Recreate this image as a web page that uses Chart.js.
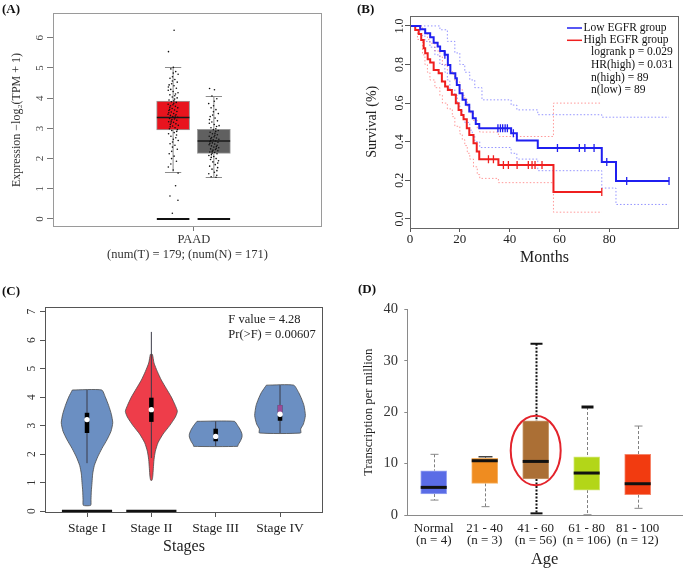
<!DOCTYPE html>
<html>
<head>
<meta charset="utf-8">
<script src="https://cdn.jsdelivr.net/npm/chart.js@4.4.1/dist/chart.umd.min.js"></script>
<style>
  body { margin: 0; background: #fff; overflow: hidden; }
  #wrap { position: relative; width: 685px; height: 569px; background: #fff; }
  canvas { position: absolute; }
  .tag { position: absolute; font: bold 13px "Liberation Serif", serif; color: #111; line-height: 15px; }
</style>
</head>
<body>
<div id="wrap">
  <canvas id="chartA" width="340" height="270" style="left:0;top:0;width:340px;height:270px"></canvas>
  <canvas id="chartB" width="345" height="270" style="left:340px;top:0;width:345px;height:270px"></canvas>
  <canvas id="chartC" width="340" height="294" style="left:0;top:275px;width:340px;height:294px"></canvas>
  <canvas id="chartD" width="345" height="294" style="left:340px;top:275px;width:345px;height:294px"></canvas>
  <div class="tag" style="left:2px;top:1px">(A)</div>
  <div class="tag" style="left:357px;top:1px">(B)</div>
  <div class="tag" style="left:2px;top:283px">(C)</div>
  <div class="tag" style="left:358px;top:281px">(D)</div>
</div>
<script>
// ---- (A) expression in tumour vs normal ----
const aGroups = ['Tumor', 'Normal'];
const aLow = [1.57, 1.38];
const aQ1 = [2.95, 2.17];
const aMedian = [3.36, 2.58];
const aQ3 = [3.90, 2.97];
const aHigh = [5.04, 4.07];
const aTumorPoints = [6.25, 5.54, 5.02, 4.97, 4.88, 4.83, 4.79, 4.71, 4.66, 4.62, 4.57, 4.53, 4.48, 4.44,
  4.41, 4.37, 4.33, 4.29, 4.26, 4.22, 4.18, 4.14, 4.11, 4.08, 4.04, 4.01, 3.97, 3.94, 3.91, 3.88, 3.86,
  3.83, 3.8, 3.78, 3.75, 3.73, 3.7, 3.68, 3.66, 3.63, 3.61, 3.59, 3.56, 3.54, 3.52, 3.49, 3.47, 3.45,
  3.43, 3.41, 3.39, 3.37, 3.35, 3.33, 3.31, 3.29, 3.27, 3.24, 3.22, 3.2, 3.18, 3.15, 3.13, 3.1, 3.08,
  3.05, 3.02, 2.99, 2.96, 2.93, 2.9, 2.86, 2.82, 2.78, 2.74, 2.69, 2.64, 2.6, 2.55, 2.49, 2.44, 2.38,
  2.31, 2.24, 2.16, 2.08, 2.0, 1.91, 1.82, 1.72, 1.62, 1.52, 1.1, 0.76, 0.62, 0.19];
const aNormalPoints = [4.32, 4.28, 4.07, 3.98, 3.9, 3.82, 3.75, 3.68, 3.62, 3.55, 3.49, 3.44, 3.39, 3.34,
  3.29, 3.25, 3.21, 3.17, 3.13, 3.09, 3.06, 3.02, 2.99, 2.96, 2.93, 2.9, 2.87, 2.84, 2.82, 2.79, 2.77,
  2.74, 2.72, 2.7, 2.68, 2.66, 2.64, 2.62, 2.6, 2.58, 2.56, 2.54, 2.52, 2.5, 2.48, 2.46, 2.44, 2.42,
  2.4, 2.38, 2.36, 2.34, 2.32, 2.3, 2.28, 2.26, 2.24, 2.22, 2.2, 2.18, 2.16, 2.13, 2.1, 2.07, 2.04,
  2.0, 1.97, 1.93, 1.89, 1.85, 1.8, 1.75, 1.7, 1.65, 1.6, 1.55, 1.5, 1.45, 1.4, 1.38];
const aXTicks = [0];
const aXLabels = ['PAAD'];
const aYTicks = [0, 1, 2, 3, 4, 5, 6];

// ---- (B) Kaplan-Meier ----
const lowMonths = [0, 4.1, 6.1, 8.1, 9.5, 11.1, 12.1, 13.9, 15.2, 16.2, 18.2, 18.8, 19.9, 21.1, 22.4, 23.8,
  25.2, 26.4, 27.8, 40.6, 42.9, 51.3, 77, 82.7, 104];
const lowSurv = [1, 0.983, 0.962, 0.941, 0.913, 0.893, 0.870, 0.850, 0.798, 0.755, 0.729, 0.694, 0.651,
  0.617, 0.591, 0.556, 0.522, 0.492, 0.470, 0.444, 0.406, 0.367, 0.295, 0.197, 0.197];
const highMonths = [0, 2.1, 3.5, 4.5, 5.5, 6.1, 7.1, 8.1, 9.5, 11.5, 12.8, 14.1, 15.2, 16.8, 18.4, 19.5,
  20.6, 21.5, 22.8, 23.8, 25.5, 26.8, 27.8, 35.5, 57.6, 77];
const highSurv = [1, 0.979, 0.958, 0.927, 0.884, 0.858, 0.827, 0.810, 0.772, 0.755, 0.712, 0.686, 0.668,
  0.643, 0.599, 0.565, 0.539, 0.517, 0.470, 0.435, 0.392, 0.349, 0.309, 0.280, 0.140, 0.140];
const lowUpperMonths = [0, 12, 15, 18, 20, 22, 24, 26, 28.9, 40.6, 42.9, 51.3, 77, 104];
const lowUpperSurv = [1, 0.98, 0.92, 0.86, 0.80, 0.76, 0.72, 0.68, 0.617, 0.59, 0.565, 0.54, 0.527, 0.527];
const lowLowerMonths = [0, 4, 6, 8, 10, 12, 14, 15, 16, 18, 19, 20, 21, 22, 24, 25, 26, 28, 40.6, 42.9,
  51.3, 77, 82.7, 104];
const lowLowerSurv = [1, 0.95, 0.92, 0.89, 0.85, 0.80, 0.76, 0.72, 0.67, 0.64, 0.60, 0.56, 0.53, 0.50,
  0.46, 0.43, 0.40, 0.37, 0.34, 0.31, 0.25, 0.16, 0.075, 0.075];
const highUpperMonths = [0, 5, 6, 7, 8, 10, 12, 13, 15, 17, 18, 20, 21, 22, 23, 24, 25.5, 27, 28, 35.5, 57.6, 77];
const highUpperSurv = [1, 0.98, 0.96, 0.93, 0.91, 0.87, 0.84, 0.80, 0.77, 0.75, 0.71, 0.67, 0.64, 0.62,
  0.58, 0.55, 0.51, 0.47, 0.45, 0.427, 0.60, 0.60];
const highLowerMonths = [0, 3, 5, 6, 7, 8, 10, 12, 13, 15, 17, 18, 20, 21, 22, 23, 24, 25.5, 27, 28, 35.5, 57.6, 77];
const highLowerSurv = [1, 0.93, 0.85, 0.80, 0.76, 0.72, 0.68, 0.64, 0.60, 0.57, 0.53, 0.48, 0.44, 0.41,
  0.38, 0.34, 0.31, 0.27, 0.23, 0.21, 0.188, 0.035, 0.035];
const lowCensorMonths = [14, 35.3, 36.3, 37.2, 38.2, 39.1, 41.5, 59.2, 68, 70.2, 73.9, 79, 87, 104];
const lowCensorSurv = [0.85, 0.47, 0.47, 0.47, 0.47, 0.47, 0.444, 0.367, 0.367, 0.367, 0.367, 0.295, 0.197, 0.197];
const highCensorMonths = [31.5, 33.5, 37.5, 39.5, 43, 47.5, 49, 50.2, 53, 77];
const highCensorSurv = [0.309, 0.309, 0.28, 0.28, 0.28, 0.28, 0.28, 0.28, 0.28, 0.14];
const bXTicks = [0, 20, 40, 60, 80];
const bYTicks = [0, 0.2, 0.4, 0.6, 0.8, 1.0];
const bLegend = ['Low EGFR group', 'High EGFR group'];
const bStats = ['logrank p = 0.029', 'HR(high) = 0.031', 'n(high) = 89', 'n(low) = 89'];

// ---- (C) violins by stage ----
const cStages = ['Stage I', 'Stage II', 'Stage III', 'Stage IV'];
const cViolinY = [
  [4.25, 4.0, 3.7, 3.4, 3.1, 2.8, 2.5, 2.2, 1.9, 1.6, 1.3, 1.0, 0.7, 0.4, 0.2],
  [5.5, 5.2, 4.9, 4.6, 4.3, 4.0, 3.7, 3.5, 3.3, 3.0, 2.7, 2.4, 2.1, 1.8, 1.5, 1.2, 1.08],
  [3.15, 3.0, 2.85, 2.7, 2.6, 2.45, 2.32, 2.27],
  [4.42, 4.16, 3.93, 3.7, 3.35, 3.05, 2.88, 2.74]
];
const cViolinWidth = [
  [0.228, 0.285, 0.337, 0.378, 0.40, 0.373, 0.31, 0.233, 0.166, 0.114, 0.088, 0.078, 0.067, 0.062, 0.057],
  [0.016, 0.041, 0.093, 0.155, 0.233, 0.311, 0.373, 0.404, 0.373, 0.285, 0.181, 0.104, 0.062, 0.041, 0.031, 0.021, 0.01],
  [0.29, 0.342, 0.383, 0.409, 0.409, 0.383, 0.347, 0.342],
  [0.212, 0.29, 0.337, 0.373, 0.394, 0.363, 0.321, 0.321]
];
const cLow = [1.68, 1.86, 2.27, 2.74];
const cQ1 = [2.74, 3.13, 2.45, 3.17];
const cMedian = [3.21, 3.56, 2.62, 3.40];
const cQ3 = [3.45, 3.98, 2.89, 3.72];
const cHigh = [4.25, 6.29, 3.15, 4.42];
const cHasZeros = [true, true, false, false];
const cYTicks = [0, 1, 2, 3, 4, 5, 6, 7];
const cStats = ['F value = 4.28', 'Pr(>F) = 0.00607'];

// ---- (D) expression by age ----
const dGroups = [['Normal', '(n = 4)'], ['21 - 40', '(n = 3)'], ['41 - 60', '(n = 56)'],
  ['61 - 80', '(n = 106)'], ['81 - 100', '(n = 12)']];
const dLow = [2.9, 1.62, 0.32, 0.05, 1.3];
const dQ1 = [4.08, 6.15, 7.0, 4.85, 3.95];
const dMedian = [5.37, 10.55, 10.42, 8.16, 6.08];
const dQ3 = [8.6, 11.0, 18.3, 11.33, 11.78];
const dHigh = [11.8, 11.33, 33.3, 21.0, 17.3];
const dYTicks = [0, 10, 20, 30, 40];
const dHighlight = 2;

// ---------- shared bits ----------
const SERIF = '"Liberation Serif", "Times New Roman", serif';
Chart.defaults.font.family = SERIF;
Chart.defaults.color = '#222';

// R style vertical tick labels on the y axis
const rotTicks = {
  id: 'rotTicks',
  afterDraw(chart, args, opts) {
    if (!opts.gap) return;
    const {ctx, chartArea} = chart;
    const y = chart.scales.y;
    ctx.save();
    ctx.font = opts.labelFont;
    ctx.fillStyle = opts.labelColor;
    ctx.textAlign = 'center';
    ctx.textBaseline = 'middle';
    y.ticks.forEach(t => {
      ctx.save();
      ctx.translate(chartArea.left - opts.gap, y.getPixelForValue(t.value));
      ctx.rotate(-Math.PI / 2);
      ctx.fillText(t.label, 0, 0);
      ctx.restore();
    });
    ctx.restore();
  }
};
// box around the plotting area
const frame = {
  id: 'frame',
  afterDraw(chart, args, opts) {
    if (!opts.lineColor) return;
    const {ctx, chartArea: a} = chart;
    ctx.save();
    ctx.strokeStyle = opts.lineColor;
    ctx.lineWidth = 1;
    ctx.strokeRect(Math.round(a.left) + 0.5, Math.round(a.top) + 0.5,
      Math.round(a.right - a.left) - 1, Math.round(a.bottom - a.top) - 1);
    ctx.restore();
  }
};
Chart.register(rotTicks, frame);

const fixedTicks = arr => s => { s.ticks = arr.map(v => ({value: v})); };
const noTip = { legend: { display: false }, tooltip: { enabled: false } };

// ---------- (A) ----------
const aCenters = [-0.155, 0.148];
const aHalf = 0.121;
// scatter the dots sideways inside the box (hash of the index, so it is the same every run)
const jitter = i => (((Math.imul(i + 11, 2654435761) >>> 0) % 1000) / 1000 - 0.5) * 0.078;

const aBoxes = {
  id: 'aBoxes',
  beforeDatasetsDraw(chart) {
    const {ctx, scales: {x, y}} = chart;
    ctx.save();
    aGroups.forEach((g, i) => {
      const cx = x.getPixelForValue(aCenters[i]);
      const half = x.getPixelForValue(aCenters[i] + aHalf) - cx;
      ctx.strokeStyle = '#8c8c8c';
      ctx.lineWidth = 1;
      ctx.beginPath();
      ctx.moveTo(cx, y.getPixelForValue(aHigh[i]));
      ctx.lineTo(cx, y.getPixelForValue(aQ3[i]));
      ctx.moveTo(cx, y.getPixelForValue(aQ1[i]));
      ctx.lineTo(cx, y.getPixelForValue(aLow[i]));
      [aHigh[i], aLow[i]].forEach(v => {
        const py = Math.round(y.getPixelForValue(v)) + 0.5;
        ctx.moveTo(cx - half / 2, py);
        ctx.lineTo(cx + half / 2, py);
      });
      ctx.stroke();
      // samples at zero
      const p0 = y.getPixelForValue(0);
      ctx.strokeStyle = '#111';
      ctx.lineWidth = 2;
      ctx.beginPath();
      ctx.moveTo(cx - half, p0);
      ctx.lineTo(cx + half, p0);
      ctx.stroke();
    });
    ctx.restore();
  },
  afterDatasetDraw(chart, args) {
    if (args.index !== 2) return;
    const {ctx, scales: {x, y}} = chart;
    ctx.save();
    ctx.strokeStyle = '#1a1a1a';
    ctx.lineWidth = 1.5;
    aGroups.forEach((g, i) => {
      const cx = x.getPixelForValue(aCenters[i]);
      const half = x.getPixelForValue(aCenters[i] + aHalf) - cx;
      const py = y.getPixelForValue(aMedian[i]);
      ctx.beginPath();
      ctx.moveTo(cx - half, py);
      ctx.lineTo(cx + half, py);
      ctx.stroke();
    });
    ctx.restore();
  }
};

new Chart(document.getElementById('chartA'), {
  type: 'bar',
  data: {
    datasets: [
      { type: 'scatter', data: aTumorPoints.map((v, i) => ({x: aCenters[0] + jitter(i), y: v})),
        pointRadius: 0.8, pointBorderWidth: 0, pointBackgroundColor: '#111' },
      { type: 'scatter', data: aNormalPoints.map((v, i) => ({x: aCenters[1] + jitter(i + 200), y: v})),
        pointRadius: 0.8, pointBorderWidth: 0, pointBackgroundColor: '#111' },
      { type: 'bar', data: aGroups.map((g, i) => ({x: aCenters[i], y: [aQ1[i], aQ3[i]]})),
        barThickness: 33, backgroundColor: ['#e8141e', '#606060'], borderColor: '#9a9a9a',
        borderWidth: 1, borderSkipped: false }
    ]
  },
  options: {
    responsive: false, animation: false, devicePixelRatio: 1,
    layout: { padding: { left: 0, top: 13, right: 18, bottom: 0 } },
    plugins: { ...noTip, rotTicks: { gap: 13, labelFont: '11px ' + SERIF, labelColor: '#444' },
      frame: { lineColor: '#9a9a9a' } },
    scales: {
      x: { type: 'linear', min: -1.048, max: 0.952, offset: false,
        afterBuildTicks: fixedTicks(aXTicks), afterFit: s => { s.height = 43; },
        grid: { offset: false, drawOnChartArea: false, tickLength: 4, color: '#777' },
        border: { display: false },
        ticks: { callback: (v, i) => aXLabels[i], font: { size: 12.5 }, color: '#333', padding: 1.5,
          maxRotation: 0, autoSkip: false },
        title: { display: true, text: '(num(T) = 179; (num(N) = 171)', font: { size: 12.5 }, color: '#333',
          padding: { top: 0, bottom: 7.5 } } },
      y: { type: 'linear', min: -0.265, max: 6.82,
        afterBuildTicks: fixedTicks(aYTicks), afterFit: s => { s.width = 53; },
        grid: { drawOnChartArea: false, tickLength: 6, color: '#777' },
        border: { display: false },
        ticks: { display: false, callback: v => String(v) },
        title: { display: true, text: 'Expression \u2212log\u2082(TPM + 1)', font: { size: 12 }, color: '#333',
          padding: { top: 9.8, bottom: 0 } } }
    }
  },
  plugins: [aBoxes]
});

// ---------- (B) ----------
const pts = (xs, ys) => xs.map((t, i) => ({x: t, y: ys[i]}));
const lowColor = '#1f1ff0';
const highColor = '#ef1f1f';
const band = (xs, ys, color) => ({ type: 'line', data: pts(xs, ys), stepped: 'before', borderColor: color,
  borderWidth: 1, borderDash: [1.5, 2], pointRadius: 0, fill: false });

const bLegendPlugin = {
  id: 'bLegend',
  afterDraw(chart) {
    const {ctx, chartArea} = chart;
    const x0 = chartArea.right - 112;
    ctx.save();
    ctx.font = '11.5px ' + SERIF;
    ctx.textBaseline = 'middle';
    ctx.fillStyle = '#111';
    [lowColor, highColor].forEach((c, i) => {
      const yy = chartArea.top + 12.5 + i * 12.3;
      ctx.strokeStyle = c;
      ctx.lineWidth = 1.5;
      ctx.beginPath();
      ctx.moveTo(x0, yy);
      ctx.lineTo(x0 + 15, yy);
      ctx.stroke();
      ctx.fillText(bLegend[i], x0 + 16.5, yy);
    });
    bStats.forEach((t, i) => ctx.fillText(t, x0 + 24, chartArea.top + 36.8 + i * 12.6));
    ctx.restore();
  }
};

new Chart(document.getElementById('chartB'), {
  type: 'scatter',
  data: {
    datasets: [
      { type: 'scatter', data: pts(lowCensorMonths, lowCensorSurv), pointStyle: 'line', rotation: 90,
        pointRadius: 4, pointBorderWidth: 1.3, pointBorderColor: lowColor },
      { type: 'scatter', data: pts(highCensorMonths, highCensorSurv), pointStyle: 'line', rotation: 90,
        pointRadius: 4, pointBorderWidth: 1.3, pointBorderColor: highColor },
      { type: 'line', data: pts(lowMonths, lowSurv), stepped: 'before', borderColor: lowColor,
        borderWidth: 2, pointRadius: 0, fill: false },
      { type: 'line', data: pts(highMonths, highSurv), stepped: 'before', borderColor: highColor,
        borderWidth: 2, pointRadius: 0, fill: false },
      band(lowUpperMonths, lowUpperSurv, 'rgba(60,60,255,0.55)'),
      band(lowLowerMonths, lowLowerSurv, 'rgba(60,60,255,0.55)'),
      band(highUpperMonths, highUpperSurv, 'rgba(255,70,70,0.55)'),
      band(highLowerMonths, highLowerSurv, 'rgba(255,70,70,0.55)')
    ]
  },
  options: {
    responsive: false, animation: false, devicePixelRatio: 1,
    layout: { padding: { left: 0, top: 15.5, right: 6, bottom: 0 } },
    plugins: { ...noTip, rotTicks: { gap: 10, labelFont: '12px ' + SERIF, labelColor: '#222' },
      frame: { lineColor: '#666' } },
    scales: {
      x: { type: 'linear', min: 0, max: 108,
        afterBuildTicks: fixedTicks(bXTicks), afterFit: s => { s.height = 42; },
        grid: { drawOnChartArea: false, tickLength: 4, color: '#555' },
        border: { display: false },
        ticks: { callback: v => String(v), font: { size: 13 }, color: '#222', padding: 0, maxRotation: 0,
          autoSkip: false },
        title: { display: true, text: 'Months', font: { size: 16 }, color: '#222',
          padding: { top: 0, bottom: 2.4 } } },
      y: { type: 'linear', min: -0.047, max: 1.054,
        afterBuildTicks: fixedTicks(bYTicks), afterFit: s => { s.width = 70; },
        grid: { drawOnChartArea: false, tickLength: 5, color: '#555' },
        border: { display: false },
        ticks: { display: false, callback: v => v.toFixed(1) },
        title: { display: true, text: 'Survival (%)', font: { size: 14 }, color: '#222',
          padding: { top: 23.6, bottom: 0 } } }
    }
  },
  plugins: [bLegendPlugin]
});

// ---------- (C) ----------
const cFill = ['#6b8fc2', '#ee3d4a', '#6b8fc2', '#6b8fc2'];
const cUpperTint = [null, null, null, '#9b4b97'];
const seg = (a, b, color, width, order) => ({ type: 'line', data: [a, b], borderColor: color,
  borderWidth: width, borderCapStyle: 'butt', pointRadius: 0, fill: false, order });
const cDatasets = [];
cStages.forEach((s, k) => {
  const left = cViolinY[k].map((v, j) => ({x: k - cViolinWidth[k][j], y: v}));
  const right = cViolinY[k].map((v, j) => ({x: k + cViolinWidth[k][j], y: v})).reverse();
  cDatasets.push({ type: 'line', data: [...left, ...right, left[0]], fill: 'shape', backgroundColor: cFill[k],
    borderColor: '#4a4a4a', borderWidth: 0.8, pointRadius: 0, tension: 0.2, order: 6 });
  cDatasets.push(seg({x: k, y: cLow[k]}, {x: k, y: cHigh[k]}, '#3b3b48', 1, 5));
  cDatasets.push(seg({x: k, y: cQ1[k]}, {x: k, y: cQ3[k]}, '#000', 4.5, 4));
  if (cUpperTint[k]) cDatasets.push(seg({x: k, y: cMedian[k]}, {x: k, y: cQ3[k]}, cUpperTint[k], 4.5, 3));
  if (cHasZeros[k]) cDatasets.push(seg({x: k - 0.39, y: 0}, {x: k + 0.39, y: 0}, '#111', 2.5, 5));
  cDatasets.push({ type: 'scatter', data: [{x: k, y: cMedian[k]}], pointRadius: 2.7, pointBorderWidth: 0,
    pointBackgroundColor: '#fff', order: 1 });
});

const cText = {
  id: 'cText',
  afterDraw(chart) {
    const {ctx, chartArea} = chart;
    ctx.save();
    ctx.font = '12.5px ' + SERIF;
    ctx.fillStyle = '#222';
    ctx.textBaseline = 'middle';
    cStats.forEach((t, i) => ctx.fillText(t, chartArea.left + 183.3, chartArea.top + 13 + i * 14.5));
    ctx.restore();
  }
};

new Chart(document.getElementById('chartC'), {
  type: 'scatter',
  data: { datasets: cDatasets },
  options: {
    responsive: false, animation: false, devicePixelRatio: 1,
    layout: { padding: { left: 0, top: 32, right: 17, bottom: 0 } },
    plugins: { ...noTip, rotTicks: { gap: 13.3, labelFont: '11.5px ' + SERIF, labelColor: '#333' },
      frame: { lineColor: '#555' } },
    scales: {
      x: { type: 'linear', min: -0.653, max: 3.668,
        afterBuildTicks: fixedTicks(cStages.map((s, k) => k)), afterFit: s => { s.height = 56; },
        grid: { drawOnChartArea: false, tickLength: 4, color: '#555' },
        border: { display: false },
        ticks: { callback: (v, i) => cStages[i], font: { size: 13.5 }, color: '#222', padding: 3.2,
          maxRotation: 0, autoSkip: false },
        title: { display: true, text: 'Stages', font: { size: 16 }, color: '#222',
          padding: { top: 0, bottom: 12.7 } } },
      y: { type: 'linear', min: -0.07, max: 7.165,
        afterBuildTicks: fixedTicks(cYTicks), afterFit: s => { s.width = 45; },
        grid: { drawOnChartArea: false, tickLength: 5, color: '#555' },
        border: { display: false },
        ticks: { display: false, callback: v => String(v) } }
    }
  },
  plugins: [cText]
});

// ---------- (D) ----------
const dFill = ['#5a6ce6', '#ef8c20', '#ab6f35', '#b3d618', '#f23b10'];
const dEdge = ['#9aa6f2', '#f6b366', '#c79a6e', '#d3e876', '#f6856a'];
const dWhiskerColor = ['#808080', '#808080', '#111', '#808080', '#808080'];
const dWhiskerWidth = [1, 1, 2, 1, 1];
const dTopCap = [[4, 1, '#888'], [7, 1.5, '#444'], [6, 2, '#111'], [6, 3, '#111'], [4, 1, '#888']];
const dBottomCap = [[4, 1, '#888'], [4, 1, '#888'], [6, 2, '#111'], [4, 1, '#888'], [4, 1, '#888']];
const dBoxPx = 26;

const dBoxes = {
  id: 'dBoxes',
  beforeDatasetsDraw(chart) {
    const {ctx, scales: {x, y}} = chart;
    ctx.save();
    dGroups.forEach((g, i) => {
      const cx = Math.round(x.getPixelForValue(i)) + 0.5;
      ctx.strokeStyle = dWhiskerColor[i];
      ctx.lineWidth = dWhiskerWidth[i];
      ctx.setLineDash(dWhiskerWidth[i] > 1 ? [2, 1.5] : [3, 2]);
      ctx.beginPath();
      ctx.moveTo(cx, y.getPixelForValue(dHigh[i]));
      ctx.lineTo(cx, y.getPixelForValue(dQ3[i]));
      ctx.moveTo(cx, y.getPixelForValue(dQ1[i]));
      ctx.lineTo(cx, y.getPixelForValue(dLow[i]));
      ctx.stroke();
      ctx.setLineDash([]);
      [[dHigh[i], dTopCap[i]], [dLow[i], dBottomCap[i]]].forEach(([v, c]) => {
        const py = y.getPixelForValue(v);
        ctx.strokeStyle = c[2];
        ctx.lineWidth = c[1];
        ctx.beginPath();
        ctx.moveTo(cx - c[0], py);
        ctx.lineTo(cx + c[0], py);
        ctx.stroke();
      });
    });
    ctx.restore();
  },
  afterDatasetsDraw(chart) {
    const {ctx, scales: {x, y}} = chart;
    ctx.save();
    ctx.strokeStyle = '#111';
    ctx.lineWidth = 3;
    dGroups.forEach((g, i) => {
      const cx = x.getPixelForValue(i);
      const py = y.getPixelForValue(dMedian[i]);
      ctx.beginPath();
      ctx.moveTo(cx - dBoxPx / 2, py);
      ctx.lineTo(cx + dBoxPx / 2, py);
      ctx.stroke();
    });
    // highlight ring round the 41 - 60 box
    const k = dHighlight;
    const ex = x.getPixelForValue(k);
    const top = y.getPixelForValue(dQ3[k] + 1.0);
    const bottom = y.getPixelForValue(dQ1[k] - 1.2);
    ctx.strokeStyle = '#e3232b';
    ctx.lineWidth = 2;
    ctx.beginPath();
    ctx.ellipse(ex, (top + bottom) / 2, x.getPixelForValue(k + 0.49) - ex, (bottom - top) / 2, 0, 0, Math.PI * 2);
    ctx.stroke();
    ctx.restore();
  }
};

new Chart(document.getElementById('chartD'), {
  type: 'bar',
  data: {
    datasets: [
      { data: dGroups.map((g, i) => ({x: i, y: [dQ1[i], dQ3[i]]})), barThickness: dBoxPx,
        backgroundColor: dFill, borderColor: dEdge, borderWidth: 1, borderSkipped: false }
    ]
  },
  options: {
    responsive: false, animation: false, devicePixelRatio: 1,
    layout: { padding: { left: 0, top: 34.3, right: 3, bottom: 0 } },
    plugins: { ...noTip },
    scales: {
      x: { type: 'linear', min: -0.518, max: 4.869, offset: false,
        afterBuildTicks: fixedTicks(dGroups.map((g, i) => i)), afterFit: s => { s.height = 54; },
        grid: { display: false, drawTicks: false, offset: false },
        border: { display: true, color: '#8a8a8a', width: 1 },
        ticks: { callback: (v, i) => dGroups[i], font: { size: 13, lineHeight: 0.95 }, color: '#222',
          padding: 7.1, maxRotation: 0, autoSkip: false },
        title: { display: true, text: 'Age', font: { size: 16.5, lineHeight: 1.1 }, color: '#222',
          padding: { top: 0, bottom: 0 } } },
      y: { type: 'linear', min: 0, max: 40,
        afterBuildTicks: fixedTicks(dYTicks), afterFit: s => { s.width = 67.3; },
        grid: { drawOnChartArea: false, tickLength: 3, color: '#8a8a8a' },
        border: { display: true, color: '#8a8a8a', width: 1 },
        ticks: { callback: v => String(v), font: { size: 14.5 }, color: '#333', padding: 6.3 },
        title: { display: true, text: 'Transcription per million', font: { size: 12.7 }, color: '#222',
          padding: { top: 20.7, bottom: 0 } } }
    }
  },
  plugins: [dBoxes]
});
</script>
</body>
</html>
